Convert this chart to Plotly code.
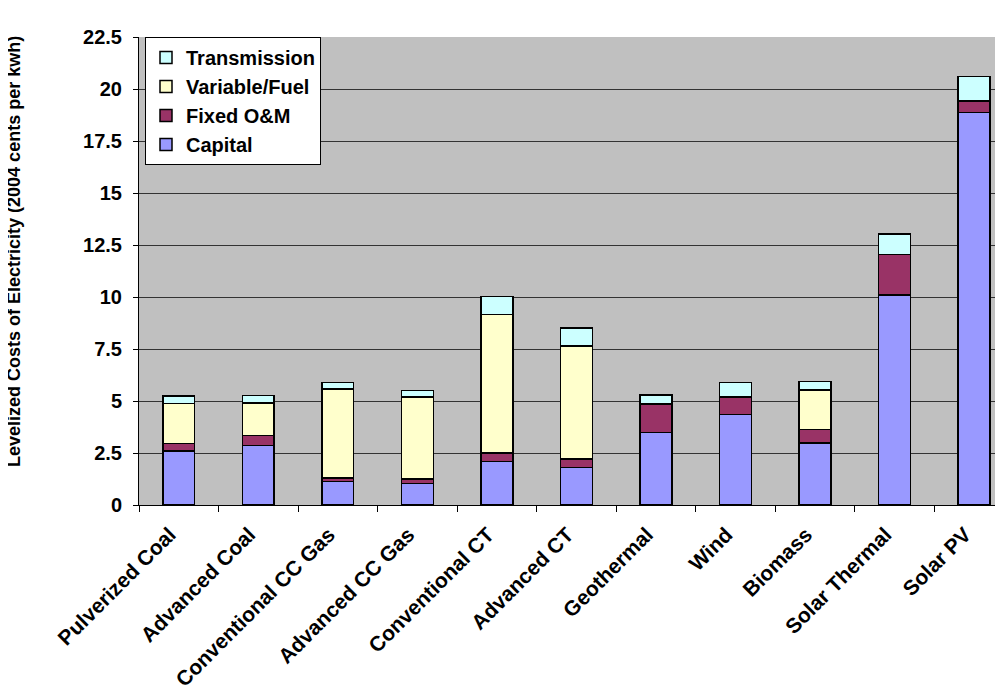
import plotly.graph_objects as go

categories = ["Pulverized Coal", "Advanced Coal", "Conventional CC Gas", "Advanced CC Gas",
              "Conventional CT", "Advanced CT", "Geothermal", "Wind", "Biomass",
              "Solar Thermal", "Solar PV"]
capital = [2.60, 2.85, 1.14, 1.04, 2.08, 1.81, 3.48, 4.34, 2.97, 10.10, 18.87]
fixed_om = [0.35, 0.50, 0.16, 0.20, 0.43, 0.39, 1.38, 0.85, 0.67, 1.94, 0.55]
variable_fuel = [1.94, 1.55, 4.28, 3.95, 6.66, 5.45, 0.00, 0.00, 1.90, 0.00, 0.00]
transmission = [0.35, 0.37, 0.32, 0.32, 0.85, 0.85, 0.43, 0.71, 0.39, 0.98, 1.18]
y_ticks = [0, 2.5, 5, 7.5, 10, 12.5, 15, 17.5, 20, 22.5]
y_tick_text = ["0", "2.5", "5", "7.5", "10", "12.5", "15", "17.5", "20", "22.5"]

series = [
    ("Capital", capital, "#9999FF", 4),
    ("Fixed O&M", fixed_om, "#993366", 3),
    ("Variable/Fuel", variable_fuel, "#FFFFCC", 2),
    ("Transmission", transmission, "#CCFFFF", 1),
]

FONT = "Liberation Sans, Arial, sans-serif"

# page body has an 8px margin, so the figure is offset by (8, 8) in the window
W, H = 995, 684
ML, MT = 131, 29
PW, PH = W - ML, 468

fig = go.Figure()
for name, vals, color, rank in series:
    fig.add_trace(go.Bar(
        x=categories, y=vals, name=name,
        marker=dict(color=color, line=dict(color="black", width=1.5)),
        width=0.40, legendrank=rank,
    ))

fig.update_layout(
    width=W, height=H,
    margin=dict(l=ML, r=0, t=MT, b=H - MT - PH, autoexpand=False),
    barmode="stack",
    plot_bgcolor="#C0C0C0",
    paper_bgcolor="white",
    font=dict(family=FONT, size=20, color="black", weight="bold"),
    showlegend=True,
    legend=dict(
        x=6 / PW, y=1.0, xanchor="left", yanchor="top",
        bgcolor="white", bordercolor="black", borderwidth=1,
        traceorder="normal",
        font=dict(family=FONT, size=20, color="black", weight="bold"),
    ),
    xaxis=dict(
        range=[-0.5, 10.364],
        automargin=False,
        tickangle=-45,
        tickson="boundaries",
        ticks="outside", ticklen=6, tickcolor="black",
        ticklabelshift=-9, ticklabelstandoff=8,
        showline=True, linecolor="black", linewidth=1,
        showgrid=False,
        tickfont=dict(family=FONT, size=21, color="black", weight="bold"),
    ),
    yaxis=dict(
        range=[0, 22.5],
        automargin=False,
        tickvals=y_ticks, ticktext=y_tick_text,
        ticks="outside", ticklen=5, tickcolor="black",
        ticklabelstandoff=7,
        showline=True, linecolor="black", linewidth=1,
        showgrid=True, gridcolor="#333333", gridwidth=1,
        zeroline=False,
        tickfont=dict(family=FONT, size=20, color="black", weight="bold"),
    ),
    annotations=[dict(
        text="Levelized Costs of Electricity (2004 cents per kwh)",
        textangle=-90, xref="paper", yref="paper",
        x=(14 - 8 - ML) / PW, y=(PH + MT - (252 - 8)) / PH,
        xanchor="center", yanchor="middle", showarrow=False,
        font=dict(family=FONT, size=18, color="black", weight="bold"),
    )],
)

fig.write_html("out.html")
